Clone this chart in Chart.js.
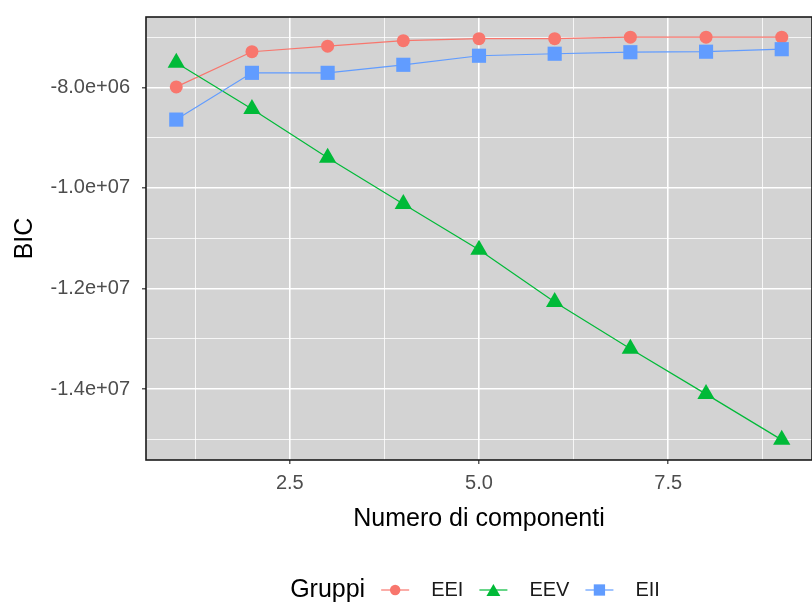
<!DOCTYPE html>
<html>
<head>
<meta charset="utf-8">
<title>BIC per numero di componenti</title>
<script src="https://cdn.jsdelivr.net/npm/chart.js@4.4.1/dist/chart.umd.min.js"></script>
<style>
  html, body { margin: 0; padding: 0; background: #ffffff; overflow: hidden; }
  #wrap { width: 812px; height: 610px; overflow: hidden; }
</style>
</head>
<body>
<div id="wrap"><canvas id="bicChart" width="822" height="610"></canvas></div>
<script>
// Number of mixture components
const components = [1, 2, 3, 4, 5, 6, 7, 8, 9]

// BIC for each model
const bicEEI = [-7.99e6, -7.29e6, -7.18e6, -7.07e6, -7.03e6, -7.03e6, -7.0e6, -7.0e6, -7.0e6]
const bicEEV = [-7.51e6, -8.43e6, -9.4e6, -1.032e7, -1.123e7, -1.227e7, -1.32e7, -1.41e7, -1.501e7]
const bicEII = [-8.64e6, -7.71e6, -7.71e6, -7.55e6, -7.37e6, -7.33e6, -7.3e6, -7.29e6, -7.24e6]

const seriesNames = ["EEI", "EEV", "EII"]
const seriesColors = ["#F8766D", "#00BA38", "#619CFF"]
const seriesShapes = ["circle", "triangle", "rect"]
const seriesRadius = [6.5, 10, 10]

// Axis breaks (labelled and unlabelled)
const xMajor = [2.5, 5, 7.5]
const xMinor = [1.25, 3.75, 6.25, 8.75]
const yMajor = [-8e6, -1e7, -1.2e7, -1.4e7]
const yMinor = [-7e6, -9e6, -1.1e7, -1.3e7, -1.5e7]

const FONT = "'Liberation Sans', Arial, Helvetica, sans-serif"
Chart.defaults.font.family = FONT

// Pad a range by 5% on each side
function expandRange(values, mult = 0.05) {
  const lo = Math.min(...values)
  const hi = Math.max(...values)
  const pad = (hi - lo) * mult
  return [lo - pad, hi + pad]
}

// -8e6 -> "-8.0e+06"
function sciLabel(v) {
  const [mant, exp] = v.toExponential(1).split("e")
  const sign = exp[0] === "-" ? "-" : "+"
  return `${mant}e${sign}${exp.replace(/^[+-]/, "").padStart(2, "0")}`
}

const xRange = expandRange(components)
const yRange = expandRange([...bicEEI, ...bicEEV, ...bicEII])

const allBreaks = (major, minor) => [...major, ...minor].sort((a, b) => a - b).map((v) => ({ value: v }))

function gridOptions(major) {
  return {
    color: "#ffffff",
    lineWidth: (ctx) => (ctx.tick && major.includes(ctx.tick.value) ? 1.6 : 0.8),
    drawTicks: true,
    tickLength: 4,
    tickWidth: 1.2,
    tickColor: (ctx) => (ctx.tick && major.includes(ctx.tick.value) ? "#333333" : "rgba(0,0,0,0)"),
  }
}

// Labels never hang over the panel edge, so drop the extra label padding
function noLabelPadding(scale) {
  scale.paddingTop = 0
  scale.paddingBottom = 0
  scale.paddingLeft = 0
  scale.paddingRight = 0
}

// Grey panel behind the grid, dark frame around it
const panelPlugin = {
  id: "panel",
  beforeDraw(chart) {
    const { ctx, chartArea: a } = chart
    ctx.save()
    ctx.fillStyle = "#d3d3d3"
    ctx.fillRect(a.left, a.top, a.width, a.height)
    ctx.restore()
  },
  beforeDatasetsDraw(chart) {
    const { ctx, chartArea: a } = chart
    ctx.save()
    ctx.strokeStyle = "#1a1a1a"
    ctx.lineWidth = 1.6
    ctx.strokeRect(a.left, a.top, a.width, a.height)
    ctx.restore()
  },
}

// Horizontal legend under the plot: "Gruppi" then line+marker keys
const legendPlugin = {
  id: "bottomLegend",
  afterDraw(chart) {
    const { ctx } = chart
    const y = 590
    const centerX = 475
    const keyGap = 30
    const labelGap = 36
    const titleFont = `25px ${FONT}`
    const labelFont = `20px ${FONT}`

    ctx.save()
    ctx.font = titleFont
    const titleW = ctx.measureText("Gruppi").width
    ctx.font = labelFont
    const items = chart.data.datasets.map((ds) => ({ ds, w: ctx.measureText(ds.label).width }))
    const total = titleW + items.reduce((s, it) => s + keyGap + labelGap + it.w, 0)

    let x = centerX - total / 2
    ctx.textBaseline = "middle"
    ctx.textAlign = "left"
    ctx.fillStyle = "#000000"
    ctx.font = titleFont
    ctx.fillText("Gruppi", x, y)
    x += titleW

    items.forEach(({ ds, w }) => {
      const kx = x + keyGap
      ctx.strokeStyle = ds.borderColor
      ctx.lineWidth = 1.2
      ctx.beginPath()
      ctx.moveTo(kx - 14, y)
      ctx.lineTo(kx + 14, y)
      ctx.stroke()
      ctx.fillStyle = ds.pointBackgroundColor
      Chart.helpers.drawPoint(ctx, { pointStyle: ds.pointStyle, radius: ds.pointRadius * 0.8, rotation: 0, borderWidth: 0 }, kx, y + (ds.pointStyle === "triangle" ? 2 : 0))
      ctx.fillStyle = "#1a1a1a"
      ctx.font = labelFont
      ctx.fillText(ds.label, kx + labelGap, y)
      x = kx + labelGap + w
    })
    ctx.restore()
  },
}

const series = [bicEEI, bicEEV, bicEII]

const datasets = series.map((values, i) => ({
  label: seriesNames[i],
  data: components.map((c, j) => ({ x: c, y: values[j] })),
  borderColor: seriesColors[i],
  backgroundColor: seriesColors[i],
  pointBackgroundColor: seriesColors[i],
  pointBorderColor: seriesColors[i],
  pointBorderWidth: 0,
  pointStyle: seriesShapes[i],
  pointRadius: seriesRadius[i],
  borderWidth: 1.2,
  tension: 0,
  order: 3 - i,
}))

const bicChart = new Chart(document.getElementById("bicChart").getContext("2d"), {
  type: "line",
  data: { datasets },
  plugins: [panelPlugin, legendPlugin],
  options: {
    responsive: false,
    animation: false,
    devicePixelRatio: 1,
    layout: { padding: { top: 17, right: 5, left: 0, bottom: 0 } },
    plugins: {
      legend: { display: false },
      tooltip: { enabled: false },
    },
    scales: {
      x: {
        type: "linear",
        bounds: "data",
        min: xRange[0],
        max: xRange[1],
        afterBuildTicks: (scale) => {
          scale.ticks = allBreaks(xMajor, xMinor)
        },
        afterFit: (scale) => {
          scale.height = 150
          noLabelPadding(scale)
        },
        grid: gridOptions(xMajor),
        border: { display: false },
        ticks: {
          autoSkip: false,
          maxRotation: 0,
          padding: 7,
          color: "#4d4d4d",
          font: { size: 20 },
          callback: (v) => (xMajor.includes(v) ? v.toFixed(1) : ""),
        },
        title: {
          display: true,
          text: "Numero di componenti",
          color: "#000000",
          font: { size: 25 },
          padding: { top: 0, bottom: 76 },
        },
      },
      y: {
        type: "linear",
        bounds: "data",
        min: yRange[0],
        max: yRange[1],
        afterBuildTicks: (scale) => {
          scale.ticks = allBreaks(yMajor, yMinor)
        },
        afterFit: (scale) => {
          scale.width = 146
          noLabelPadding(scale)
        },
        grid: gridOptions(yMajor),
        border: { display: false },
        ticks: {
          autoSkip: false,
          padding: 12,
          color: "#4d4d4d",
          font: { size: 20 },
          callback: (v) => (yMajor.includes(v) ? sciLabel(v) : ""),
        },
        title: {
          display: true,
          text: "BIC",
          color: "#000000",
          font: { size: 25 },
          padding: { top: 10, bottom: 0 },
        },
      },
    },
  },
})
</script>
</body>
</html>
